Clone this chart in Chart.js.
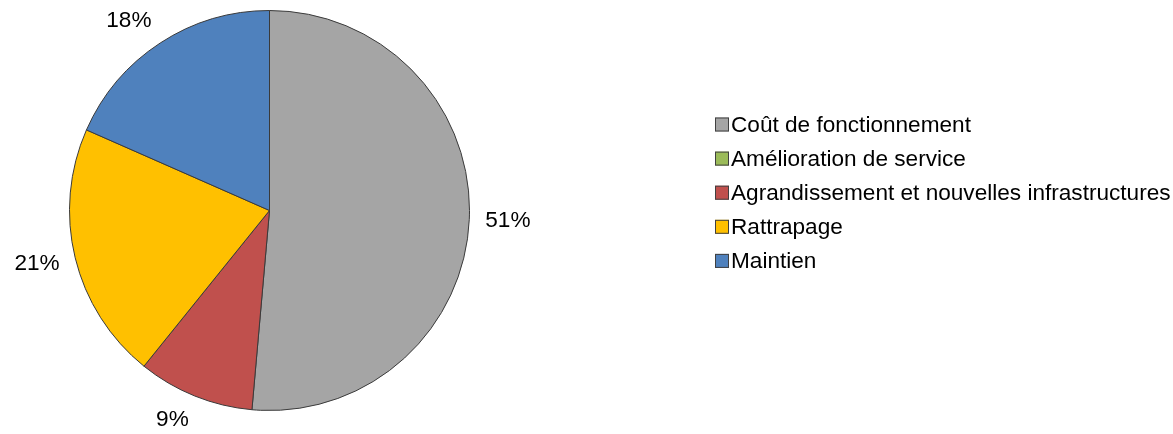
<!DOCTYPE html>
<html>
<head>
<meta charset="utf-8">
<script src="https://cdn.jsdelivr.net/npm/chart.js@4"></script>
<style>
html,body{margin:0;padding:0;background:#fff;}
canvas{display:block;}
</style>
</head>
<body>
<canvas id="c" width="1173" height="434"></canvas>
<script>
const categories = ["Coût de fonctionnement", "Amélioration de service", "Agrandissement et nouvelles infrastructures", "Rattrapage", "Maintien"];
const shares = [51.4, 0, 9.4, 20.8, 18.4];
const colors = ["#A5A5A5", "#9BBB59", "#C0504D", "#FFC000", "#4F81BD"];

const FONT = "'Liberation Sans', Arial, sans-serif";
const FONT_SIZE = 22.6;

const pctLabels = {
  id: 'pctLabels',
  afterDatasetsDraw(chart) {
    const ctx = chart.ctx;
    const meta = chart.getDatasetMeta(0);
    const data = chart.data.datasets[0].data;
    const total = data.reduce((a, b) => a + b, 0);
    ctx.save();
    ctx.font = FONT_SIZE + "px " + FONT;
    ctx.fillStyle = "#000";
    ctx.textAlign = "center";
    ctx.textBaseline = "middle";
    meta.data.forEach((arc, i) => {
      const v = data[i];
      if (!v) return;
      const txt = Math.round(v / total * 100) + "%";
      const mid = (arc.startAngle + arc.endAngle) / 2;
      const dx = Math.cos(mid), dy = Math.sin(mid);
      const w = ctx.measureText(txt).width, h = 20;
      const r = arc.outerRadius + 16;
      const x = arc.x + dx * r + Math.sign(dx) * w / 2;
      const y = arc.y + dy * r + dy * h / 2;
      ctx.fillText(txt, x, y);
    });
    ctx.restore();
  }
};

const sideLegend = {
  id: 'sideLegend',
  afterDraw(chart) {
    const ctx = chart.ctx;
    const labels = chart.data.labels;
    const bg = chart.data.datasets[0].backgroundColor;
    const x0 = 715, y0 = 124.5, step = 34.1, box = 14;
    ctx.save();
    ctx.font = FONT_SIZE + "px " + FONT;
    ctx.textBaseline = "middle";
    ctx.textAlign = "left";
    labels.forEach((lab, i) => {
      const cy = y0 + i * step;
      ctx.fillStyle = bg[i];
      ctx.fillRect(x0, cy - box / 2, box, box);
      ctx.strokeStyle = "#404040";
      ctx.lineWidth = 1;
      ctx.strokeRect(x0 + 0.5, cy - box / 2 + 0.5, box - 1, box - 1);
      ctx.fillStyle = "#000";
      ctx.fillText(lab, x0 + 16, cy + 1);
    });
    ctx.restore();
  }
};

new Chart(document.getElementById('c'), {
  type: 'pie',
  data: {
    labels: categories,
    datasets: [{
      data: shares,
      backgroundColor: colors,
      borderColor: "#3a3a3a",
      borderWidth: 1
    }]
  },
  options: {
    responsive: false,
    animation: false,
    layout: { padding: { left: 69, top: 10, right: 703, bottom: 23 } },
    plugins: {
      legend: { display: false },
      tooltip: { enabled: false }
    }
  },
  plugins: [pctLabels, sideLegend]
});
</script>
</body>
</html>
